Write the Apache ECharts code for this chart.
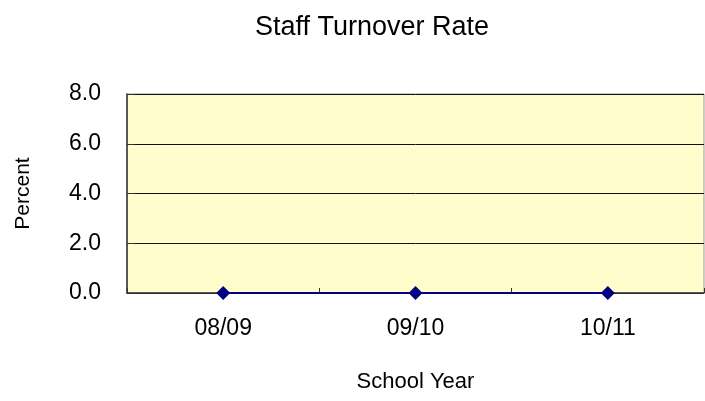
<!DOCTYPE html>
<html>
<head>
<meta charset="utf-8">
<script src="https://cdn.jsdelivr.net/npm/echarts@6/dist/echarts.min.js"></script>
<style>
html, body { margin: 0; padding: 0; background: #fff; }
#chart { width: 705px; height: 401px; }
</style>
</head>
<body>
<div id="chart"></div>
<script>
var years = ['08/09', '09/10', '10/11'];
var turnover = [0, 0, 0];
var yTicks = [0, 2, 4, 6, 8];

var chart = echarts.init(document.getElementById('chart'));
var font = 'Liberation Sans, Arial, sans-serif';
var option = {
    animation: false,
    title: {
        text: 'Staff Turnover Rate',
        left: 250,
        top: 9,
        textStyle: {fontFamily: font, fontSize: 27, fontWeight: 'normal', color: '#000'}
    },
    grid: {
        left: 127,
        right: 1,
        top: 94,
        bottom: 108,
        show: true,
        backgroundColor: '#FFFDCC',
        borderColor: '#999',
        borderWidth: 1
    },
    xAxis: {
        type: 'category',
        data: years,
        boundaryGap: true,
        name: 'School Year',
        nameLocation: 'middle',
        nameGap: 78,
        nameTextStyle: {fontFamily: font, fontSize: 22, color: '#000'},
        axisLine: {lineStyle: {color: '#333', width: 1.5}},
        axisTick: {show: true, inside: true, length: 5, lineStyle: {color: '#333'}},
        axisLabel: {fontFamily: font, fontSize: 23, color: '#000', margin: 24},
        splitLine: {show: false}
    },
    yAxis: {
        type: 'value',
        min: yTicks[0],
        max: yTicks[yTicks.length - 1],
        interval: 2,
        name: 'Percent',
        nameLocation: 'middle',
        nameGap: 93,
        nameTextStyle: {fontFamily: font, fontSize: 21, color: '#000'},
        axisLine: {show: true, lineStyle: {color: '#333', width: 1.5}},
        axisTick: {show: true, inside: true, length: 8, lineStyle: {color: '#333'}},
        axisLabel: {
            fontFamily: font, fontSize: 23, color: '#000', margin: 26,
            formatter: function (v) { return v.toFixed(1); }
        },
        splitLine: {show: true, lineStyle: {color: '#111', width: 1}}
    },
    series: [
        {
            name: 'Turnover',
            type: 'line',
            data: turnover,
            symbol: 'diamond',
            symbolSize: 14,
            lineStyle: {color: '#000080', width: 2},
            itemStyle: {color: '#000080'}
        }
    ]
};
chart.setOption(option);
</script>
</body>
</html>
